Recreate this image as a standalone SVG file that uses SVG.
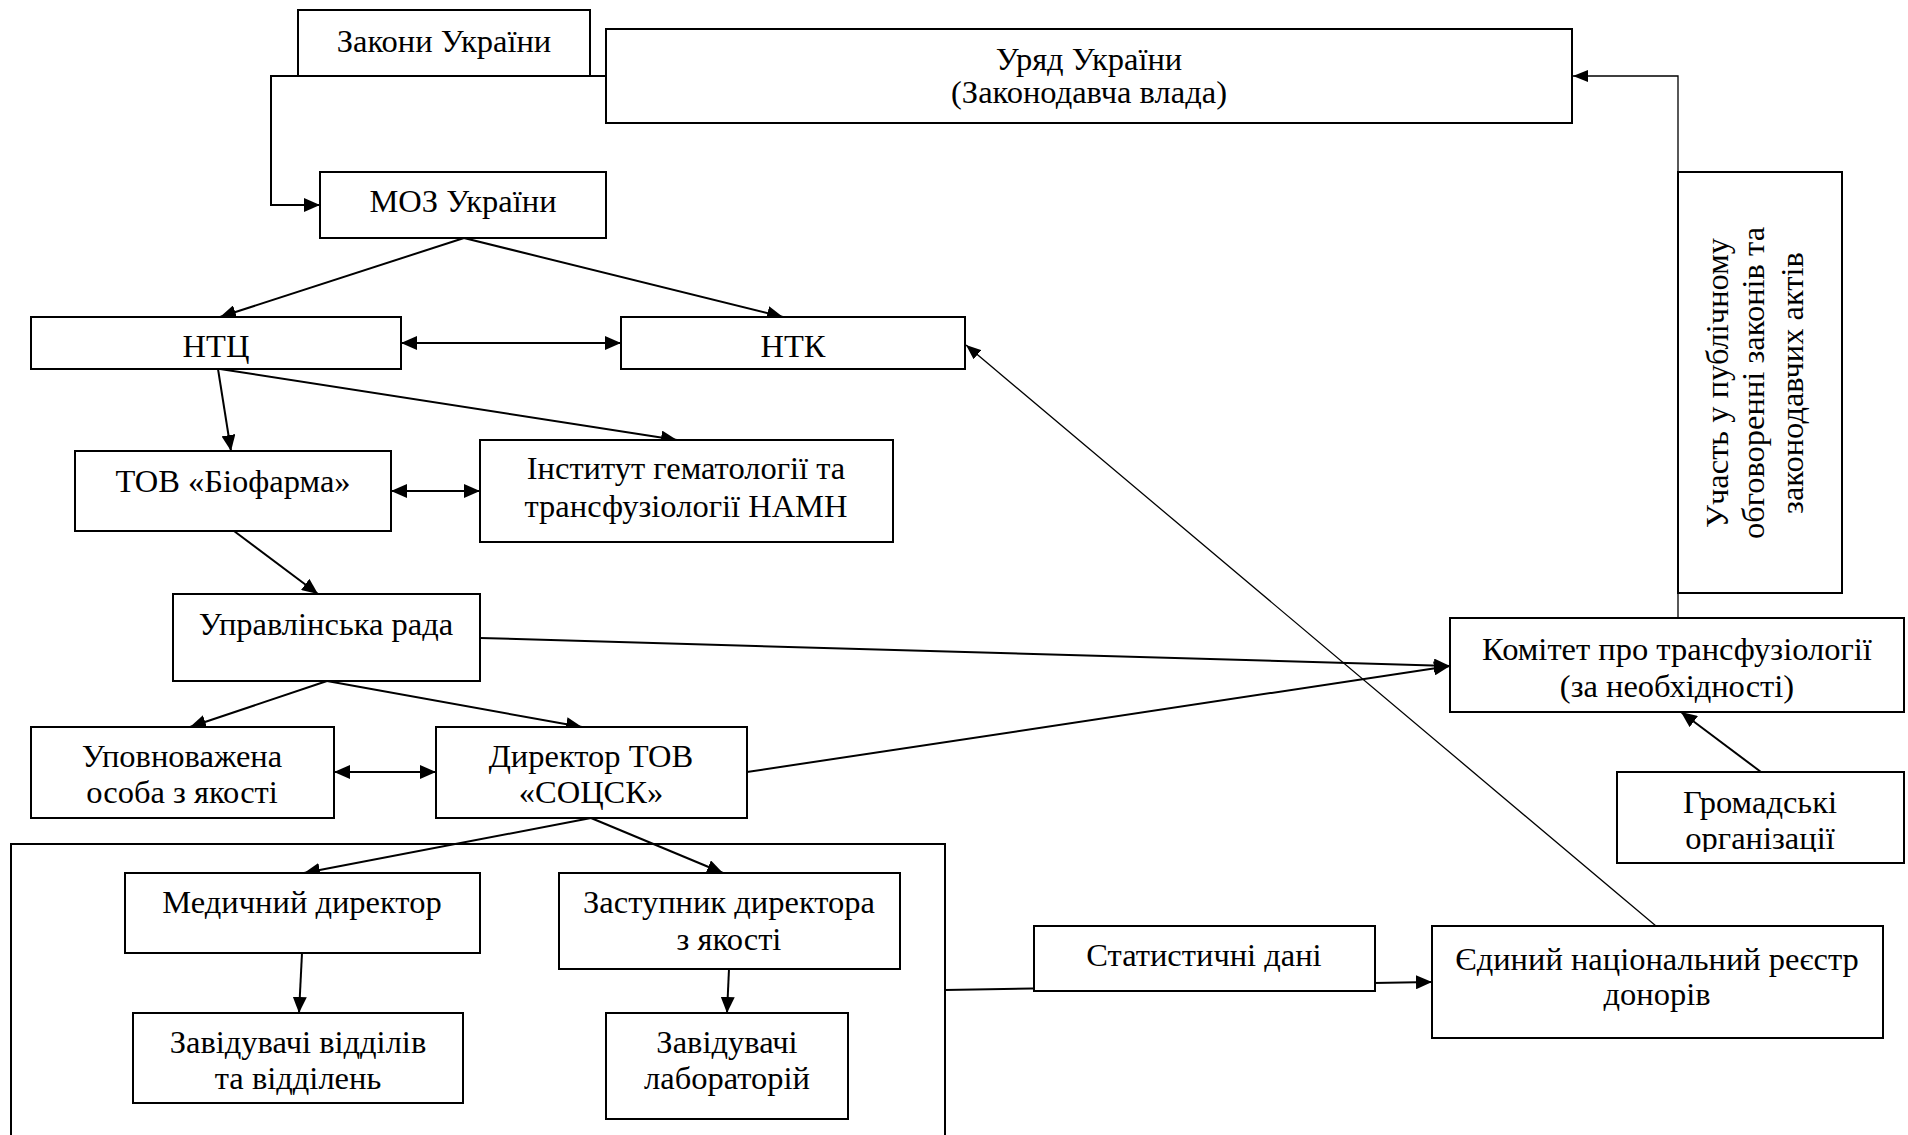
<svg xmlns="http://www.w3.org/2000/svg" width="1908" height="1135" viewBox="0 0 1908 1135">
<style>
.box{fill:#fff;stroke:#000;stroke-width:2}
.frame{fill:none;stroke:#000;stroke-width:2}
.c{fill:none;stroke:#000;stroke-width:2}
.thin{fill:none;stroke:#000;stroke-width:1.3}
text{font-family:"Liberation Serif","Times New Roman",serif;font-size:32.5px;fill:#000;text-anchor:middle}
</style>
<defs>
<marker id="a" markerUnits="userSpaceOnUse" markerWidth="16" markerHeight="14" refX="16" refY="7" orient="auto-start-reverse"><path d="M0,0 L16,7 L0,14 z" fill="#000"/></marker>
<marker id="as" markerUnits="userSpaceOnUse" markerWidth="15" markerHeight="12" refX="15" refY="6" orient="auto"><path d="M0,0 L15,6 L0,12 z" fill="#000"/></marker>
<clipPath id="hclip"><rect x="1617" y="772" width="287" height="80"/></clipPath>
</defs>
<rect width="1908" height="1135" fill="#fff"/>
<g id="container"><rect class="frame" x="11" y="844" width="934" height="300"/></g>
<g id="connectors">
<path class="c" d="M606,76 H271 V205 H320" marker-end="url(#a)"/>
<line class="c" x1="464" y1="238" x2="220" y2="317" marker-end="url(#a)"/>
<line class="c" x1="464" y1="238" x2="783" y2="317" marker-end="url(#a)"/>
<line class="c" x1="401" y1="343" x2="621" y2="343" marker-start="url(#a)" marker-end="url(#a)"/>
<line class="c" x1="218" y1="369" x2="231" y2="451" marker-end="url(#a)"/>
<line class="c" x1="220" y1="369" x2="677" y2="440" marker-end="url(#a)"/>
<line class="c" x1="391" y1="491" x2="480" y2="491" marker-start="url(#a)" marker-end="url(#a)"/>
<line class="c" x1="234" y1="531" x2="318" y2="594" marker-end="url(#a)"/>
<line class="c" x1="480" y1="638" x2="1450" y2="666" marker-end="url(#a)"/>
<line class="c" x1="327" y1="681" x2="190" y2="727" marker-end="url(#a)"/>
<line class="c" x1="327" y1="681" x2="582" y2="727" marker-end="url(#a)"/>
<line class="c" x1="334" y1="772" x2="436" y2="772" marker-start="url(#a)" marker-end="url(#a)"/>
<line class="c" x1="747" y1="772" x2="1450" y2="666" marker-end="url(#a)"/>
<line class="c" x1="591" y1="818" x2="304" y2="873" marker-end="url(#a)"/>
<line class="c" x1="591" y1="818" x2="723" y2="873" marker-end="url(#a)"/>
<line class="c" x1="302" y1="953" x2="299" y2="1013" marker-end="url(#a)"/>
<line class="c" x1="729" y1="969" x2="727" y2="1013" marker-end="url(#a)"/>
<line class="c" x1="945" y1="990" x2="1432" y2="982" marker-end="url(#a)"/>
<line class="thin" x1="1656" y1="926" x2="966" y2="345" marker-end="url(#as)"/>
<line class="c" x1="1761" y1="772" x2="1681" y2="712" marker-end="url(#a)"/>
<path class="thin" d="M1678,618 V76 H1573" marker-end="url(#as)"/>
</g>
<g id="zakony"><rect class="box" x="298" y="10" width="292" height="66"/><text x="444" y="52">Закони України</text></g>
<g id="uriad"><rect class="box" x="606" y="29" width="966" height="94"/><text x="1089" y="70">Уряд України</text><text x="1089" y="103">(Законодавча влада)</text></g>
<g id="moz"><rect class="box" x="320" y="172" width="286" height="66"/><text x="463" y="212">МОЗ України</text></g>
<g id="ntc"><rect class="box" x="31" y="317" width="370" height="52"/><text x="216" y="357">НТЦ</text></g>
<g id="ntk"><rect class="box" x="621" y="317" width="344" height="52"/><text x="793" y="357">НТК</text></g>
<g id="biofarma"><rect class="box" x="75" y="451" width="316" height="80"/><text x="233" y="492">ТОВ «Біофарма»</text></g>
<g id="institute"><rect class="box" x="480" y="440" width="413" height="102"/><text x="686" y="479">Інститут гематології та</text><text x="686" y="517">трансфузіології НАМН</text></g>
<g id="uprav"><rect class="box" x="173" y="594" width="307" height="87"/><text x="326" y="635">Управлінська рада</text></g>
<g id="upovn"><rect class="box" x="31" y="727" width="303" height="91"/><text x="182" y="767">Уповноважена</text><text x="182" y="803">особа з якості</text></g>
<g id="dyrektor"><rect class="box" x="436" y="727" width="311" height="91"/><text x="591" y="767">Директор ТОВ</text><text x="591" y="803">«СОЦСК»</text></g>
<g id="medych"><rect class="box" x="125" y="873" width="355" height="80"/><text x="302" y="913">Медичний директор</text></g>
<g id="zastupnyk"><rect class="box" x="559" y="873" width="341" height="96"/><text x="729" y="913">Заступник директора</text><text x="729" y="950">з якості</text></g>
<g id="zavid1"><rect class="box" x="133" y="1013" width="330" height="90"/><text x="298" y="1053">Завідувачі відділів</text><text x="298" y="1089">та відділень</text></g>
<g id="zavid2"><rect class="box" x="606" y="1013" width="242" height="106"/><text x="727" y="1053">Завідувачі</text><text x="727" y="1089">лабораторій</text></g>
<g id="stat"><rect class="box" x="1034" y="926" width="341" height="65"/><text x="1204" y="966">Статистичні дані</text></g>
<g id="yedynyi"><rect class="box" x="1432" y="926" width="451" height="112"/><text x="1657" y="970">Єдиний національний реєстр</text><text x="1657" y="1005">донорів</text></g>
<g id="komitet"><rect class="box" x="1450" y="618" width="454" height="94"/><text x="1677" y="660">Комітет про трансфузіології</text><text x="1677" y="697">(за необхідності)</text></g>
<g id="hromadski"><rect class="box" x="1617" y="772" width="287" height="91"/><g clip-path="url(#hclip)"><text x="1760" y="813">Громадські</text><text x="1760" y="849">організації</text></g></g>
<g id="uchast"><rect class="box" x="1678" y="172" width="164" height="421"/>
<text transform="translate(1728,383) rotate(-90)">Участь у публічному</text>
<text transform="translate(1764,383) rotate(-90)">обговоренні законів та</text>
<text transform="translate(1803,383) rotate(-90)">законодавчих актів</text></g>
</svg>
